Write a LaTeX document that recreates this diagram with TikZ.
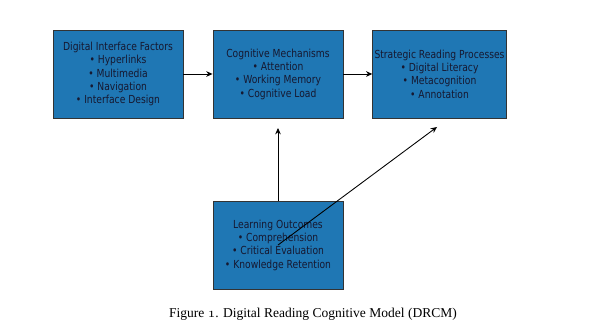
\documentclass[tikz,border=0pt]{standalone}
\usepackage{fontspec}
\newfontfamily\boxfont{DejaVu Sans}[FakeStretch=0.83]
\newfontfamily\capfont{Liberation Serif}
\usepackage{tikz}
\usetikzlibrary{arrows.meta, positioning, shadows}
\definecolor{boxblue}{HTML}{1F77B4}
\definecolor{boxtext}{RGB}{22,24,48}
\newcommand{\oldone}{{\usefont{OML}{cmm}{m}{it}1}}

\begin{document}
\begin{tikzpicture}[
    >={Stealth[length=3.6pt, width=3.2pt]},
    block/.style={draw=black!80, fill=boxblue, line width=0.5pt,
                  minimum width=2.6cm, minimum height=1.76cm,
                  align=center, inner sep=1pt, text=boxtext,
                  font=\boxfont\fontsize{6.3}{7.6}\selectfont,
                  drop shadow={shadow xshift=0.6pt, shadow yshift=-0.6pt,
                               opacity=0.35}},
    link/.style={->, line width=0.5pt, black}
  ]
  \useasboundingbox (0,0) rectangle (12.22,6.5);

  % Top row
  \node[block] (factors) at (2.36, 5.02)
    {Digital Interface Factors\\ • Hyperlinks\\ • Multimedia\\
     • Navigation\\ • Interface Design};
  \node[block] (mechanisms) at (5.56, 5.02)
    {Cognitive Mechanisms\\ • Attention\\ • Working Memory\\
     • Cognitive Load};
  \node[block, minimum width=2.62cm] (processes) at (8.79, 5.02)
    {Strategic Reading Processes\\ • Digital Literacy\\
     • Metacognition\\ • Annotation};

  % Bottom
  \node[block] (outcomes) at (5.56, 1.6)
    {Learning Outcomes\\ • Comprehension\\ • Critical Evaluation\\
     • Knowledge Retention};

  \coordinate (upTip) at (5.56, 3.94);
  \coordinate (diagTip) at (8.74, 3.96);

  \draw[link] (factors) -- (mechanisms);
  \draw[link] (mechanisms) -- (processes);
  \draw[link] (outcomes.north) -- (upTip);
  \draw[link] (outcomes.center) -- (diagTip);

  \node[font=\capfont\fontsize{7.7}{9}\selectfont] (caption) at (6.26, 0.22)
    {Figure \oldone. Digital Reading Cognitive Model (DRCM)};
\end{tikzpicture}
\end{document}
